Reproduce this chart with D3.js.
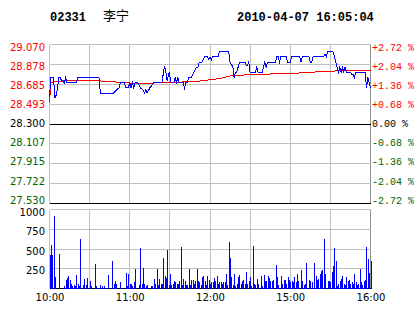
<!DOCTYPE html>
<html>
<head>
<meta charset="utf-8">
<script src="https://cdn.jsdelivr.net/npm/d3@7"></script>
<style>
  body { margin: 0; background: #fff; }
  svg { display: block; }
</style>
</head>
<body>
<svg id="chart" width="414" height="314"></svg>
<script>
// header
const stockCode = "02331";
const stockName = "李宁";
const stamp = "2010-04-07 16:05:04";

// scales / ticks
const prevClose = 28.30;
const priceTicks = ["29.070", "28.878", "28.685", "28.493", "28.300", "28.107", "27.915", "27.722", "27.530"];
const pctTicks = ["+2.72 %", "+2.04 %", "+1.36 %", "+0.68 %", " 0.00 %", "-0.68 %", "-1.36 %", "-2.04 %", "-2.72 %"];
const volTicks = ["1000", "750", "500", "250"];
const timeLabels = ["10:00", "11:00", "12:00", "15:00", "16:00"];
const timeMinutes = [0, 60, 120, 180, 240];

// price line (trading minute since 10:00, lunch removed)
const priceMinutes = [0, 1, 3, 4, 5, 6, 7, 8, 9, 10, 11, 12, 13, 20, 21, 37, 38, 48, 50, 52, 53, 56, 57, 59, 60, 61, 62, 63, 64, 66, 68, 70, 71, 72, 73, 75, 77, 78, 84, 86, 87, 88, 89.5, 91, 93, 94, 95, 96, 97, 100, 101, 102, 103, 104, 106, 108, 110, 111, 112, 114, 116, 118, 119, 120, 121, 122, 126, 127, 134, 135, 136, 137, 138, 139, 140, 141, 142, 146, 147, 148, 149, 150, 154, 155, 156, 159, 160, 161, 162, 163, 169, 170, 171, 172, 173, 177, 178, 180, 181, 187, 188, 189, 194, 195, 196, 197, 205, 206, 207, 208, 212, 213, 214, 215, 216, 217, 218, 219, 220, 221, 222, 225, 226, 227, 228, 229, 236, 237, 238, 239, 240];
const prices = [28.56, 28.75, 28.75, 28.55, 28.58, 28.65, 28.75, 28.75, 28.72, 28.72, 28.70, 28.75, 28.70, 28.70, 28.75, 28.75, 28.60, 28.60, 28.63, 28.65, 28.70, 28.70, 28.65, 28.65, 28.70, 28.65, 28.70, 28.65, 28.70, 28.70, 28.65, 28.63, 28.60, 28.63, 28.60, 28.65, 28.68, 28.70, 28.70, 28.86, 28.80, 28.72, 28.80, 28.70, 28.70, 28.75, 28.70, 28.75, 28.70, 28.70, 28.65, 28.70, 28.70, 28.75, 28.75, 28.80, 28.85, 28.85, 28.90, 28.90, 28.95, 28.95, 28.93, 28.95, 28.92, 28.95, 28.95, 29.00, 29.00, 28.90, 28.87, 28.87, 28.75, 28.80, 28.80, 28.85, 28.90, 28.90, 28.87, 28.87, 28.90, 28.80, 28.80, 28.85, 28.80, 28.80, 28.85, 28.90, 28.85, 28.90, 28.90, 28.95, 28.95, 28.90, 28.95, 28.95, 28.90, 28.90, 28.95, 28.95, 28.90, 28.95, 28.95, 28.90, 28.90, 28.95, 28.95, 28.98, 28.95, 29.00, 29.00, 28.95, 28.90, 28.85, 28.80, 28.85, 28.80, 28.85, 28.80, 28.85, 28.80, 28.80, 28.78, 28.78, 28.75, 28.80, 28.80, 28.65, 28.75, 28.70, 28.65];

// average price line
const avgMinutes = [0, 1, 5, 21, 46, 55, 68, 85, 110, 116, 123, 130, 134, 149, 181, 195, 205, 224, 240];
const avgPrices = [28.50, 28.70, 28.712, 28.726, 28.712, 28.70, 28.692, 28.70, 28.712, 28.722, 28.732, 28.748, 28.764, 28.778, 28.79, 28.80, 28.81, 28.817, 28.817];

// volume bars
const volMinutes = [0, 1, 2, 3, 4, 7, 11, 12, 13, 14, 15, 16, 17, 18, 19, 20, 21, 22, 23, 25, 26, 27, 28, 30, 31, 34, 35, 38, 39, 41, 44, 47, 48, 49, 50, 53, 57, 58, 59, 60, 61, 62, 63, 64, 67, 68, 69, 70, 71, 72, 73, 76, 77, 78, 79, 80, 81, 82, 83, 84, 85, 86, 87, 88, 89, 90, 91, 92, 93, 94, 95, 96, 97, 98, 99, 100, 101, 102, 103, 104, 105, 106, 107, 108, 109, 110, 111, 112, 113, 114, 115, 116, 117, 118, 119, 120, 121, 122, 123, 124, 125, 126, 127, 128, 129, 130, 131, 132, 133, 134, 135, 136, 137, 138, 139, 140, 141, 142, 143, 144, 145, 146, 147, 148, 149, 150, 151, 152, 153, 154, 155, 156, 158, 159, 160, 161, 162, 163, 164, 165, 166, 167, 169, 170, 171, 173, 174, 175, 176, 177, 178, 179, 180, 181, 182, 183, 184, 185, 186, 188, 189, 190, 191, 192, 194, 195, 196, 198, 199, 200, 201, 202, 203, 204, 205, 206, 208, 209, 210, 211, 212, 213, 214, 215, 216, 217, 218, 219, 220, 221, 222, 223, 224, 225, 226, 227, 228, 229, 230, 231, 232, 233, 234, 235, 236, 237, 238, 239, 240];
const volumes = [422, 550, 430, 916, 148, 443, 30, 105, 127, 156, 105, 63, 30, 42, 30, 169, 55, 30, 625, 42, 118, 42, 131, 101, 30, 304, 30, 42, 30, 30, 169, 346, 63, 93, 63, 76, 190, 30, 181, 63, 63, 30, 76, 245, 42, 510, 63, 257, 55, 30, 42, 30, 30, 118, 63, 245, 42, 118, 55, 63, 388, 156, 135, 485, 42, 181, 42, 63, 93, 76, 63, 55, 93, 523, 42, 118, 93, 42, 42, 245, 42, 105, 105, 63, 93, 245, 93, 76, 42, 148, 156, 93, 42, 156, 105, 63, 76, 76, 135, 93, 156, 55, 76, 76, 63, 76, 84, 181, 42, 587, 388, 148, 42, 181, 30, 63, 148, 169, 63, 93, 105, 55, 207, 63, 93, 148, 30, 536, 55, 42, 118, 63, 156, 30, 177, 93, 93, 156, 135, 93, 93, 105, 295, 148, 42, 156, 55, 105, 105, 55, 148, 105, 76, 93, 76, 148, 76, 181, 93, 232, 93, 42, 55, 321, 105, 93, 76, 321, 156, 105, 118, 181, 219, 232, 625, 181, 93, 93, 76, 207, 283, 510, 346, 30, 55, 93, 118, 156, 55, 42, 148, 93, 105, 55, 76, 63, 181, 76, 42, 63, 245, 76, 42, 93, 105, 523, 371, 194, 346];

const svg = d3.select('#chart');

const gridColor = '#c0c0c0';
const upColor = '#ff0000';
const downColor = '#006400';

// x: trading minutes -> pixels
const xScale = d3.scaleLinear().domain([0, 240]).range([49.5, 370.5]);

// price panel
const pTop = 44.5, pBottom = 203.5;
const yPrice = d3.scaleLinear()
  .domain([prevClose * (1 - 0.0272), prevClose * (1 + 0.0272)])
  .range([pBottom, pTop]);
const gridRows = d3.scaleLinear().domain([0, 8]).range([pTop, pBottom]);
const labelRows = d3.scaleLinear().domain([0, 8]).range([47.5, 200]);

// volume panel
const vTop = 209.5, vBottom = 288.5;
const yVol = d3.scaleLinear().domain([0, 1000]).range([vBottom, vTop]);
const volLabelRows = d3.scaleLinear().domain([0, 3]).range([212.7, 270]);

const gridX = d3.range(0, 241, 30);

// header
const header = svg.append('g').attr('font-family', '"Liberation Mono", monospace')
  .attr('font-weight', 'bold').attr('font-size', 12).attr('fill', '#000');
header.append('text').attr('x', 50).attr('y', 21).text(stockCode);
header.append('text').attr('x', 237).attr('y', 21).text(stamp);
svg.append('text').attr('x', 103).attr('y', 20)
  .attr('font-family', '"Noto Sans CJK SC", sans-serif').attr('font-size', 13)
  .text(stockName);

// grid
const grid = svg.append('g').attr('shape-rendering', 'crispEdges');
grid.selectAll('.vline')
  .data(gridX)
  .enter()
  .append('line')
  .attr('x1', d => xScale(d)).attr('x2', d => xScale(d))
  .attr('y1', pTop).attr('y2', pBottom)
  .attr('stroke', d => d === 240 ? '#909090' : gridColor);
grid.selectAll('.vline2')
  .data(gridX)
  .enter()
  .append('line')
  .attr('x1', d => xScale(d)).attr('x2', d => xScale(d))
  .attr('y1', vTop).attr('y2', vBottom)
  .attr('stroke', d => d === 240 ? '#909090' : gridColor);
grid.selectAll('.hline')
  .data(d3.range(0, 9))
  .enter()
  .append('line')
  .attr('x1', xScale(0)).attr('x2', xScale(240))
  .attr('y1', d => gridRows(d)).attr('y2', d => gridRows(d))
  .attr('stroke', d => (d === 4 || d === 8) ? '#000' : gridColor);
grid.selectAll('.vhline')
  .data(d3.range(0, 5))
  .enter()
  .append('line')
  .attr('x1', xScale(0)).attr('x2', xScale(240))
  .attr('y1', d => yVol(d * 250)).attr('y2', d => yVol(d * 250))
  .attr('stroke', d => d === 0 ? '#000' : gridColor);

// left price labels
const rowColor = i => i < 4 ? upColor : (i === 4 ? '#000' : downColor);
svg.append('g')
  .attr('font-family', '"DejaVu Sans", sans-serif').attr('font-size', 10)
  .attr('text-anchor', 'end')
  .selectAll('text')
  .data(priceTicks)
  .enter()
  .append('text')
  .attr('x', 45)
  .attr('y', (d, i) => labelRows(i))
  .attr('dy', '0.36em')
  .attr('fill', (d, i) => rowColor(i))
  .text(d => d);

// right percent labels
svg.append('g')
  .attr('font-family', '"Liberation Mono", monospace').attr('font-size', 10)
  .style('white-space', 'pre')
  .selectAll('text')
  .data(pctTicks)
  .enter()
  .append('text')
  .attr('x', 372)
  .attr('y', (d, i) => labelRows(i))
  .attr('dy', '0.36em')
  .attr('fill', (d, i) => rowColor(i))
  .text(d => d);

// volume labels
svg.append('g')
  .attr('font-family', '"DejaVu Sans", sans-serif').attr('font-size', 10)
  .attr('text-anchor', 'end')
  .selectAll('text')
  .data(volTicks)
  .enter()
  .append('text')
  .attr('x', 45)
  .attr('y', (d, i) => volLabelRows(i))
  .attr('dy', '0.36em')
  .text(d => d);

// time axis
const xAxis = d3.axisBottom(xScale)
  .tickValues(timeMinutes)
  .tickFormat((d, i) => timeLabels[i])
  .tickSize(0)
  .tickPadding(0);
const axisG = svg.append('g')
  .attr('transform', `translate(0, ${294})`)
  .call(xAxis);
axisG.select('.domain').remove();
axisG.selectAll('text')
  .attr('font-family', '"DejaVu Sans", sans-serif')
  .attr('font-size', 10)
  .attr('fill', '#000');

// volume bars
svg.append('g')
  .attr('shape-rendering', 'crispEdges')
  .selectAll('rect')
  .data(volMinutes)
  .enter()
  .append('rect')
  .attr('x', d => Math.round(xScale(d)))
  .attr('y', (d, i) => yVol(volumes[i]))
  .attr('width', 1)
  .attr('height', (d, i) => vBottom - yVol(volumes[i]))
  .attr('fill', '#0000ff');

// average line
const avgLine = d3.line()
  .x(d => xScale(d))
  .y((d, i) => yPrice(avgPrices[i]));
svg.append('path')
  .attr('d', avgLine(avgMinutes))
  .attr('fill', 'none')
  .attr('stroke', '#ff0000')
  .attr('stroke-width', 1)
  .attr('shape-rendering', 'crispEdges');

// price line
const priceLine = d3.line()
  .x(d => xScale(d))
  .y((d, i) => yPrice(prices[i]));
svg.append('path')
  .attr('d', priceLine(priceMinutes))
  .attr('fill', 'none')
  .attr('stroke', '#0000ff')
  .attr('stroke-width', 1)
  .attr('shape-rendering', 'crispEdges');
</script>
</body>
</html>
